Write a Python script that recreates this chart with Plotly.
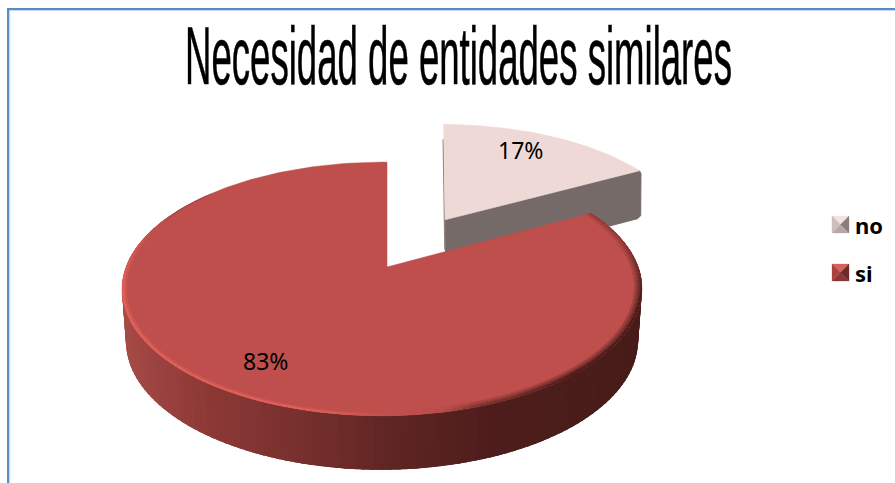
import numpy as np
import plotly.graph_objects as go

# Chart content
title_text = "Necesidad de entidades similares"
categories = ["no", "si"]
shares = [17, 83]
slice_colors = ["#EFD9D7", "#BE4F4C"]
wall_color_no = "#766A69"
pull_no = 0.48

# Projection of the tilted disc onto the page
APEX_X, APEX_Y = 387.0, 267.0
SCALE_X, SCALE_Y = 256.0, 123.0
PERSP_V, PERSP_U = 0.173, 0.019
DEPTH = 51.5
BASE_SHRINK = 0.985
# The pulled slice sits further back and is drawn slightly smaller
PULLED_KX, PULLED_KY = 0.953, 0.91
PULLED_DEPTH = 49.0


def project(theta, r=1.0, du=0.0, dv=0.0, base=False):
    """Map a polar angle (clockwise from twelve o'clock) and radius to page coordinates."""
    u = r * np.sin(theta) + du
    v = r * np.cos(theta) + dv
    w = 1 + PERSP_V * v + PERSP_U * u
    x = SCALE_X * u / w
    y = APEX_Y - SCALE_Y * v / w
    if base:
        x = x * BASE_SHRINK
        y = y + DEPTH / w ** 0.25
    return APEX_X + x, y


def mix(c1, c2, t):
    t = float(np.clip(t, 0, 1))
    return tuple(a + (b - a) * t for a, b in zip(c1, c2))


def rgb(c):
    return "rgb({:.0f},{:.0f},{:.0f})".format(*c)


fig = go.Figure()


def poly(xs, ys, color, edge=0.0):
    fig.add_trace(go.Scatter(
        x=list(xs) + [xs[0]], y=list(ys) + [ys[0]], mode="lines", fill="toself",
        fillcolor=color, line=dict(color=color, width=edge), hoverinfo="skip", showlegend=False))


total = sum(shares)
sweep_no = 2 * np.pi * shares[0] / total
mid_no = sweep_no / 2
pull_u, pull_v = pull_no * np.sin(mid_no), pull_no * np.cos(mid_no)
ax, ay = project(0, 0, pull_u, pull_v)


def pulled(theta):
    x, y = project(theta)
    return ax + PULLED_KX * (x - APEX_X) - 1.5 * (1 - np.sin(theta)) ** 3, ay + PULLED_KY * (y - APEX_Y)


# Pulled-out slice: cut wall with a rounded lower corner, then its top face
tx, ty = pulled(sweep_no)
low = ty + PULLED_DEPTH
poly([ax, tx, tx + 1.5, tx + 1.2, tx - 2, tx - 6, ax + 0.5],
     [ay, ty, ty + 3, low - 4, low - 1, low, ay + PULLED_DEPTH], wall_color_no, 1.0)
thetas = np.linspace(0, sweep_no, 60)
fx, fy = pulled(thetas)
fig.add_trace(go.Scatter(x=[fx[0] - 0.5, ax - 0.3, ax - 0.3], y=[fy[0] + 15, ay, ay + 30], mode="lines",
                         line=dict(color="#8C8280", width=1.2), hoverinfo="skip", showlegend=False))
poly([ax, *fx], [ay, *fy], slice_colors[0], 0.6)

# Large slice: outer wall shaded left to right, each strip lapping under the next
wall_stops_x = [122, 200, 300, 400, 500, 640]
wall_stops_c = [(166, 75, 71), (143, 58, 55), (120, 48, 46), (94, 37, 35), (77, 29, 27), (72, 28, 26)]
edges = np.linspace(sweep_no, 2 * np.pi, 181)
step = edges[1] - edges[0]
for a in edges[:-1]:
    if not (np.pi * 0.3 < a < np.pi * 1.7):
        continue
    b = a + 2.5 * step
    x1, y1 = project(a)
    x2, y2 = project(b)
    x3, y3 = project(b, base=True)
    x4, y4 = project(a, base=True)
    col = tuple(np.interp(x1, wall_stops_x, [c[k] for c in wall_stops_c]) for k in range(3))
    poly([x1, x2, x3, x4], [y1, y2, y3, y4], rgb(col))

# Large slice: top face
thetas = np.linspace(sweep_no, 2 * np.pi, 240)
fx, fy = project(thetas)
poly([APEX_X, *fx], [APEX_Y, *fy], slice_colors[1], 0.5)

# Soft bevel along the rim of the top face
base = (190, 79, 76)
light = (226, 96, 90)
dark = (70, 26, 24)
back = (165, 68, 65)
bands = [(0.970, 0.25), (0.977, 0.45), (0.984, 0.7), (0.992, 1.0)]
for a in edges[:-1]:
    deg = np.degrees(a)
    b = min(a + 2.5 * step, 2 * np.pi)
    if deg < 170:
        target = dark
        t = 0.4 + 0.6 * np.clip((deg - 75) / 30, 0, 1) * np.clip((170 - deg) / 30, 0, 1)
        t *= np.clip((170 - deg) / 8, 0, 1)
        fade = bands
    elif deg < 292:
        target = light
        t = np.clip((deg - 178) / 14, 0, 1) * np.clip((292 - deg) / 30, 0, 1)
        fade = [(0.984, 0.4), (0.991, 1.0)]
    else:
        target = back
        t = 0.6
        fade = [(0.994, 1.0)]
    for r2, k in fade:
        x = [project(a, 1.0)[0], project(b, 1.0)[0], project(b, r2)[0], project(a, r2)[0]]
        y = [project(a, 1.0)[1], project(b, 1.0)[1], project(b, r2)[1], project(a, r2)[1]]
        poly(x, y, rgb(mix(base, target, t * k)))

# Legend keys: small bevelled squares
key_x0, key_x1 = 832, 849
key_rows = [224.5, 272.5]
key_shades = [
    ("#F4E2E0", "#B5A8A7", "#CDBDBC", "#8A7E7D"),
    ("#D9615C", "#8A3634", "#A8433F", "#6E2A28"),
]
for row, (top, bottom, left, right) in zip(key_rows, key_shades):
    cx, cy, h = (key_x0 + key_x1) / 2, row, (key_x1 - key_x0) / 2
    poly([key_x0, key_x1, cx], [cy - h, cy - h, cy], top, 0.3)
    poly([key_x0, key_x1, cx], [cy + h, cy + h, cy], bottom, 0.3)
    poly([key_x0, key_x0, cx], [cy - h, cy + h, cy], left, 0.3)
    poly([key_x1, key_x1, cx], [cy - h, cy + h, cy], right, 0.3)

annotations = []
for name, row in zip(categories, key_rows):
    annotations.append(dict(x=853, y=row, text=f"<b>{name}</b>", showarrow=False, xanchor="left", yanchor="middle",
                            font=dict(family="Noto Sans", size=22, color="#000000")))
annotations.append(dict(x=520, y=150, text=f"{shares[0]}%", showarrow=False,
                        font=dict(family="Noto Sans", size=23, color="#000000")))
annotations.append(dict(x=265, y=361, text=f"{shares[1]}%", showarrow=False,
                        font=dict(family="Noto Sans", size=23, color="#000000")))

# Outer frame, open on the right and bottom
frame = [
    dict(type="line", x0=9.5, x1=9.5, y0=10, y1=483, line=dict(color="#C6DAF1", width=1.5)),
    dict(type="line", x0=10, x1=895, y0=10.5, y1=10.5, line=dict(color="#C6DAF1", width=1.2)),
    dict(type="line", x0=8, x1=8, y0=8, y1=483, line=dict(color="#5B8AC6", width=2)),
    dict(type="line", x0=7, x1=895, y0=9, y1=9, line=dict(color="#5B8AC6", width=2)),
]

fig.update_layout(
    width=895, height=483, margin=dict(l=0, r=0, t=0, b=0, pad=0),
    paper_bgcolor="#FFFFFF", plot_bgcolor="#FFFFFF", showlegend=False,
    title=dict(text=title_text, x=0.5, xanchor="center", y=0.884, yanchor="middle",
               font=dict(family="Liberation Sans", size=81, color="#000000")),
    xaxis=dict(range=[0, 895], visible=False, fixedrange=True),
    yaxis=dict(range=[483, 0], visible=False, fixedrange=True),
    annotations=annotations, shapes=frame,
)

# Condense the title horizontally to its narrow set width
condense_title = """
var t = document.querySelector('.gtitle');
if (t) {
  var b = t.getBBox();
  var sx = 547 / b.width;
  var cx = b.x + b.width / 2;
  t.setAttribute('transform', 'translate(458.5,0) scale(' + sx + ',1) translate(' + (-cx) + ',0)');
  t.style.stroke = '#000';
  t.style.strokeWidth = '0.6px';
}
"""
fig.write_html("out.html", config=dict(displayModeBar=False), post_script=condense_title)
